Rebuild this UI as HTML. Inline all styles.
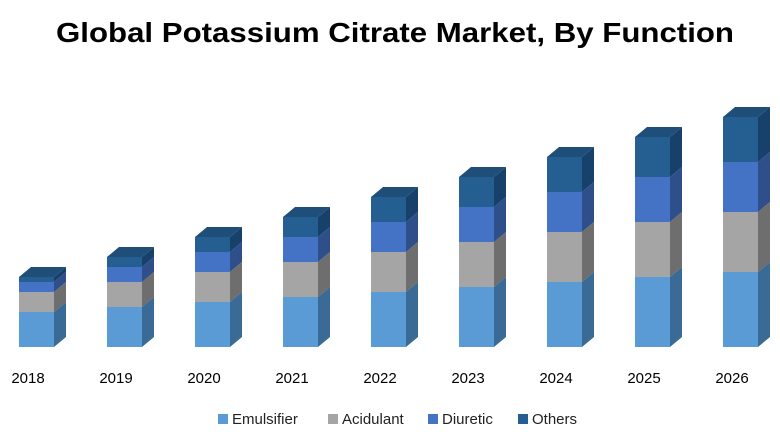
<!DOCTYPE html>
<html><head><meta charset="utf-8"><style>
html,body{margin:0;padding:0;background:#fff;}
svg{display:block;font-family:"Liberation Sans",sans-serif;}
</style></head><body>
<svg width="780" height="440" viewBox="0 0 780 440" xmlns="http://www.w3.org/2000/svg">
<rect width="780" height="440" fill="#fff"/>
<text x="395" y="42" text-anchor="middle" font-size="28" font-weight="bold" fill="#000" textLength="678" lengthAdjust="spacingAndGlyphs">Global Potassium Citrate Market, By Function</text>

<g transform="translate(0,0)">
<rect x="19" y="277" width="35" height="5" fill="#255e91"/><polygon points="54,277 66,267 66,272 54,282" fill="#17406a"/>
<rect x="19" y="282" width="35" height="10" fill="#4472c4"/><polygon points="54,282 66,272 66,282 54,292" fill="#2e4f8a"/>
<rect x="19" y="292" width="35" height="20" fill="#a5a5a5"/><polygon points="54,292 66,282 66,302 54,312" fill="#6e6e6e"/>
<rect x="19" y="312" width="35" height="35" fill="#5b9bd5"/><polygon points="54,312 66,302 66,337 54,347" fill="#3a6a96"/>
<polygon points="19,277 31,267 66,267 54,277" fill="#1f4e79"/>
</g>
<g transform="translate(88,0)">
<rect x="19" y="257" width="35" height="10" fill="#255e91"/><polygon points="54,257 66,247 66,257 54,267" fill="#17406a"/>
<rect x="19" y="267" width="35" height="15" fill="#4472c4"/><polygon points="54,267 66,257 66,272 54,282" fill="#2e4f8a"/>
<rect x="19" y="282" width="35" height="25" fill="#a5a5a5"/><polygon points="54,282 66,272 66,297 54,307" fill="#6e6e6e"/>
<rect x="19" y="307" width="35" height="40" fill="#5b9bd5"/><polygon points="54,307 66,297 66,337 54,347" fill="#3a6a96"/>
<polygon points="19,257 31,247 66,247 54,257" fill="#1f4e79"/>
</g>
<g transform="translate(176,0)">
<rect x="19" y="237" width="35" height="15" fill="#255e91"/><polygon points="54,237 66,227 66,242 54,252" fill="#17406a"/>
<rect x="19" y="252" width="35" height="20" fill="#4472c4"/><polygon points="54,252 66,242 66,262 54,272" fill="#2e4f8a"/>
<rect x="19" y="272" width="35" height="30" fill="#a5a5a5"/><polygon points="54,272 66,262 66,292 54,302" fill="#6e6e6e"/>
<rect x="19" y="302" width="35" height="45" fill="#5b9bd5"/><polygon points="54,302 66,292 66,337 54,347" fill="#3a6a96"/>
<polygon points="19,237 31,227 66,227 54,237" fill="#1f4e79"/>
</g>
<g transform="translate(264,0)">
<rect x="19" y="217" width="35" height="20" fill="#255e91"/><polygon points="54,217 66,207 66,227 54,237" fill="#17406a"/>
<rect x="19" y="237" width="35" height="25" fill="#4472c4"/><polygon points="54,237 66,227 66,252 54,262" fill="#2e4f8a"/>
<rect x="19" y="262" width="35" height="35" fill="#a5a5a5"/><polygon points="54,262 66,252 66,287 54,297" fill="#6e6e6e"/>
<rect x="19" y="297" width="35" height="50" fill="#5b9bd5"/><polygon points="54,297 66,287 66,337 54,347" fill="#3a6a96"/>
<polygon points="19,217 31,207 66,207 54,217" fill="#1f4e79"/>
</g>
<g transform="translate(352,0)">
<rect x="19" y="197" width="35" height="25" fill="#255e91"/><polygon points="54,197 66,187 66,212 54,222" fill="#17406a"/>
<rect x="19" y="222" width="35" height="30" fill="#4472c4"/><polygon points="54,222 66,212 66,242 54,252" fill="#2e4f8a"/>
<rect x="19" y="252" width="35" height="40" fill="#a5a5a5"/><polygon points="54,252 66,242 66,282 54,292" fill="#6e6e6e"/>
<rect x="19" y="292" width="35" height="55" fill="#5b9bd5"/><polygon points="54,292 66,282 66,337 54,347" fill="#3a6a96"/>
<polygon points="19,197 31,187 66,187 54,197" fill="#1f4e79"/>
</g>
<g transform="translate(440,0)">
<rect x="19" y="177" width="35" height="30" fill="#255e91"/><polygon points="54,177 66,167 66,197 54,207" fill="#17406a"/>
<rect x="19" y="207" width="35" height="35" fill="#4472c4"/><polygon points="54,207 66,197 66,232 54,242" fill="#2e4f8a"/>
<rect x="19" y="242" width="35" height="45" fill="#a5a5a5"/><polygon points="54,242 66,232 66,277 54,287" fill="#6e6e6e"/>
<rect x="19" y="287" width="35" height="60" fill="#5b9bd5"/><polygon points="54,287 66,277 66,337 54,347" fill="#3a6a96"/>
<polygon points="19,177 31,167 66,167 54,177" fill="#1f4e79"/>
</g>
<g transform="translate(528,0)">
<rect x="19" y="157" width="35" height="35" fill="#255e91"/><polygon points="54,157 66,147 66,182 54,192" fill="#17406a"/>
<rect x="19" y="192" width="35" height="40" fill="#4472c4"/><polygon points="54,192 66,182 66,222 54,232" fill="#2e4f8a"/>
<rect x="19" y="232" width="35" height="50" fill="#a5a5a5"/><polygon points="54,232 66,222 66,272 54,282" fill="#6e6e6e"/>
<rect x="19" y="282" width="35" height="65" fill="#5b9bd5"/><polygon points="54,282 66,272 66,337 54,347" fill="#3a6a96"/>
<polygon points="19,157 31,147 66,147 54,157" fill="#1f4e79"/>
</g>
<g transform="translate(616,0)">
<rect x="19" y="137" width="35" height="40" fill="#255e91"/><polygon points="54,137 66,127 66,167 54,177" fill="#17406a"/>
<rect x="19" y="177" width="35" height="45" fill="#4472c4"/><polygon points="54,177 66,167 66,212 54,222" fill="#2e4f8a"/>
<rect x="19" y="222" width="35" height="55" fill="#a5a5a5"/><polygon points="54,222 66,212 66,267 54,277" fill="#6e6e6e"/>
<rect x="19" y="277" width="35" height="70" fill="#5b9bd5"/><polygon points="54,277 66,267 66,337 54,347" fill="#3a6a96"/>
<polygon points="19,137 31,127 66,127 54,137" fill="#1f4e79"/>
</g>
<g transform="translate(704,0)">
<rect x="19" y="117" width="35" height="45" fill="#255e91"/><polygon points="54,117 66,107 66,152 54,162" fill="#17406a"/>
<rect x="19" y="162" width="35" height="50" fill="#4472c4"/><polygon points="54,162 66,152 66,202 54,212" fill="#2e4f8a"/>
<rect x="19" y="212" width="35" height="60" fill="#a5a5a5"/><polygon points="54,212 66,202 66,262 54,272" fill="#6e6e6e"/>
<rect x="19" y="272" width="35" height="75" fill="#5b9bd5"/><polygon points="54,272 66,262 66,337 54,347" fill="#3a6a96"/>
<polygon points="19,117 31,107 66,107 54,117" fill="#1f4e79"/>
</g>

<g font-size="15" fill="#000" text-anchor="middle">
<text x="28" y="383">2018</text><text x="116" y="383">2019</text><text x="204" y="383">2020</text>
<text x="292" y="383">2021</text><text x="380" y="383">2022</text><text x="468" y="383">2023</text>
<text x="556" y="383">2024</text><text x="644" y="383">2025</text><text x="732" y="383">2026</text>
</g>
<g font-size="15" fill="#222">
<rect x="218" y="414" width="10" height="10" fill="#5b9bd5"/><text x="232" y="424">Emulsifier</text>
<rect x="328" y="414" width="10" height="10" fill="#a5a5a5"/><text x="342" y="424">Acidulant</text>
<rect x="428" y="414" width="10" height="10" fill="#4472c4"/><text x="442" y="424">Diuretic</text>
<rect x="518" y="414" width="10" height="10" fill="#255e91"/><text x="532" y="424">Others</text>
</g>
</svg>
</body></html>
